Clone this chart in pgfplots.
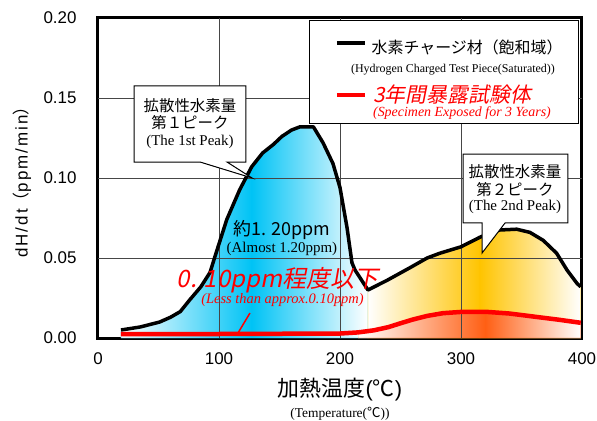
\documentclass[border=0pt]{standalone}
\usepackage{fontspec}
\setmainfont{Liberation Sans}
\newfontfamily\jp{Noto Sans CJK JP}
\newfontfamily\jpsl{Noto Sans CJK JP}[FakeSlant=0.2]
\newfontfamily\tms{Liberation Serif}
\newfontfamily\lsp{Liberation Sans}[LetterSpace=12]
\usepackage{pgfplots}
\pgfplotsset{compat=1.18}
\definecolor{skyc}{RGB}{0,195,245}
\definecolor{gold}{RGB}{255,196,0}
\definecolor{orng}{RGB}{255,95,20}
\definecolor{gridc}{RGB}{70,70,70}
\begin{document}
\begin{tikzpicture}
\begin{axis}[
 clip mode=individual,
 scale only axis, width=484bp, height=320bp,
 at={(0,0)}, anchor=south west,
 xmin=0, xmax=400, ymin=0, ymax=0.2,
 xtick={0,100,200,300,400}, ytick={0,0.05,0.1,0.15,0.2},
 major tick length=0pt,
 axis line style={line width=3bp},
 tick label style={font=\fontsize{17}{17}\selectfont},
 /pgf/number format/assume math mode=true,
 scaled y ticks=false,
 yticklabel style={/pgf/number format/fixed, /pgf/number format/fixed zerofill, /pgf/number format/precision=2, xshift=-18bp},
 xticklabel style={yshift=-11bp},
 xlabel={{\jp 加熱温度}({\jp ℃})},
 xlabel style={font=\fontsize{22}{22}\selectfont, at={(axis description cs:0.5,-0.1625)}, anchor=center},
 ylabel={\lsp dH/dt{\jp （}ppm/min{\jp ）}},
 ylabel style={font=\fontsize{17}{17}\selectfont, at={(axis description cs:-0.157,0.5)}, anchor=center},
]
% gradient fills, each split in two halves
\addplot[draw=skyc, line width=0.1pt, left color=white, right color=skyc] coordinates {
(19,0.005) (35,0.0069) (51,0.010) (60,0.013) (68,0.0165) (76,0.024) (85,0.032) (92.6,0.041) (96.7,0.051) (106.4,0.074) (117,0.0925) (127,0.107)
} \closedcycle;
\addplot[draw=skyc, line width=0.1pt, left color=skyc, right color=white] coordinates {
(127,0.107) (136,0.1156) (145,0.121) (152,0.126) (160,0.130) (167,0.132) (178,0.132) (186,0.122) (194.2,0.109) (200,0.094) (205.8,0.069) (209.9,0.047) (212.4,0.0425) (223.1,0.030)
} \closedcycle;
\addplot[draw=gold, line width=0.1pt, left color=white, right color=gold] coordinates {
(223.1,0.030) (238.8,0.036) (258,0.044) (272,0.050) (282.6,0.053) (300,0.057) (315.7,0.063)
} \closedcycle;
\addplot[draw=gold, line width=0.1pt, left color=gold, right color=white] coordinates {
(315.7,0.063) (322,0.065) (332,0.0675) (346,0.068) (357,0.066) (368,0.061) (379,0.053) (387.6,0.0425) (396,0.034) (399,0.032)
} \closedcycle;
\addplot[draw=orng, line width=0.1pt, left color=white, right color=orng] coordinates {
(215,0.0035) (228,0.0048) (240,0.0068) (250,0.0092) (260,0.0115) (272,0.0138) (285,0.0155) (300,0.0163) (320,0.0164)
} \closedcycle;
\addplot[draw=orng, line width=0.1pt, left color=orng, right color=white] coordinates {
(320,0.0164) (340,0.0153) (360,0.0134) (380,0.0115) (399,0.0095)
} \closedcycle;
% grid lines drawn over the fills
\draw[gridc, line width=0.6bp] (axis cs:100,0) -- (axis cs:100,0.2);
\draw[gridc, line width=0.6bp] (axis cs:200,0) -- (axis cs:200,0.2);
\draw[gridc, line width=0.6bp] (axis cs:300,0) -- (axis cs:300,0.2);
\draw[gridc, line width=0.6bp] (axis cs:0,0.05) -- (axis cs:400,0.05);
\draw[gridc, line width=0.6bp] (axis cs:0,0.10) -- (axis cs:400,0.10);
\draw[gridc, line width=0.6bp] (axis cs:0,0.15) -- (axis cs:400,0.15);
% curves
\addplot[black, line width=3.5bp, line join=round] coordinates {
(19,0.005) (35,0.0069) (51,0.010) (60,0.013) (68,0.0165) (76,0.024) (85,0.032) (92.6,0.041) (96.7,0.051) (106.4,0.074) (117,0.0925) (127,0.107) (136,0.1156) (145,0.121) (152,0.126) (160,0.130) (167,0.132) (178,0.132) (186,0.122) (194.2,0.109) (200,0.094) (205.8,0.069) (209.9,0.047) (212.4,0.0425) (223.1,0.030)
(238.8,0.036) (258,0.044) (272,0.050) (282.6,0.053) (300,0.057) (315.7,0.063) (322,0.065) (332,0.0675) (346,0.068) (357,0.066) (368,0.061) (379,0.053) (387.6,0.0425) (396,0.034) (399,0.032)
};
\addplot[red, line width=4.5bp, line join=round] coordinates {
(19,0.0025) (100,0.0025) (200,0.0028) (215,0.0035) (228,0.0048) (240,0.0068) (250,0.0092) (260,0.0115) (272,0.0138) (285,0.0155) (300,0.0163) (320,0.0164) (340,0.0153) (360,0.0134) (380,0.0115) (399,0.0095)
};
% callout 1
\draw[black, line width=1bp, fill=white, line join=miter] (axis cs:29.8,0.1575) -- (axis cs:122.3,0.1575) -- (axis cs:122.3,0.11) -- (axis cs:106.6,0.11) -- (axis cs:127.3,0.1) -- (axis cs:84.3,0.11) -- (axis cs:29.8,0.11) -- cycle;
\node[font=\jp\fontsize{15.5}{15.5}\selectfont, inner sep=0] at (axis cs:76,0.145) {拡散性水素量};
\node[font=\jp\fontsize{15.5}{15.5}\selectfont, inner sep=0] at (axis cs:76,0.1346) {第１ピーク};
\node[font=\tms\fontsize{15}{15}\selectfont, inner sep=0] at (axis cs:76,0.1227) {(The 1st Peak)};
% callout 2
\draw[black, line width=1bp, fill=white, line join=miter] (axis cs:301.7,0.115) -- (axis cs:388.4,0.115) -- (axis cs:388.4,0.0719) -- (axis cs:336.4,0.0719) -- (axis cs:317.4,0.0531) -- (axis cs:317.4,0.0719) -- (axis cs:301.7,0.0719) -- cycle;
\node[font=\jp\fontsize{15.5}{15.5}\selectfont, inner sep=0] at (axis cs:344.6,0.104) {拡散性水素量};
\node[font=\jp\fontsize{15.5}{15.5}\selectfont, inner sep=0] at (axis cs:344.6,0.093) {第２ピーク};
\node[font=\tms\fontsize{15}{15}\selectfont, inner sep=0] at (axis cs:344.6,0.0817) {(The 2nd Peak)};
% annotations
\node[font=\jp\fontsize{18}{18}\selectfont, inner sep=0] at (axis cs:152,0.0675) {約1. 20ppm};
\node[font=\tms\fontsize{15}{15}\selectfont, inner sep=0] at (axis cs:152,0.0556) {(Almost 1.20ppm)};
\node[red, font=\jpsl\fontsize{24}{24}\selectfont, inner sep=0] at (axis cs:148.3,0.03625) {0. 10ppm程度以下};
\node[red, font=\tms\itshape\fontsize{14.5}{14.5}\selectfont, inner sep=0] at (axis cs:152.5,0.02375) {(Less than approx.0.10ppm)};
\draw[red, line width=1.5bp] (axis cs:115.7,0.0031) -- (axis cs:125.6,0.0156);
% legend
\draw[black, line width=0.8bp, fill=white] (axis cs:174.4,0.1985) rectangle (axis cs:397.3,0.1344);
\draw[black, line width=3.5bp] (axis cs:197.5,0.1844) -- (axis cs:220.7,0.1844);
\node[anchor=west, font=\jp\fontsize{16}{16}\selectfont, inner sep=0] at (axis cs:226,0.1819) {水素チャージ材（飽和域）};
\node[font=\tms\fontsize{12}{12}\selectfont, inner sep=0] at (axis cs:293.4,0.1675) {(Hydrogen Charged Test Piece(Saturated))};
\draw[red, line width=4.5bp] (axis cs:197.5,0.1519) -- (axis cs:220.7,0.1519);
\node[anchor=west, red, font=\jpsl\fontsize{21}{21}\selectfont, inner sep=0] at (axis cs:227.3,0.1519) {3年間暴露試験体};
\node[red, font=\tms\itshape\fontsize{14}{14}\selectfont, inner sep=0] at (axis cs:300.8,0.1406) {(Specimen Exposed for 3 Years)};
% x label english
\node[font=\tms\fontsize{13.5}{13.5}\selectfont, inner sep=0] at (axis description cs:0.5,-0.2375) {(Temperature({\jp ℃}))};
\end{axis}
\pgfresetboundingbox
\useasboundingbox (-98bp,-83bp) rectangle (499bp,338bp);
\end{tikzpicture}
\end{document}
